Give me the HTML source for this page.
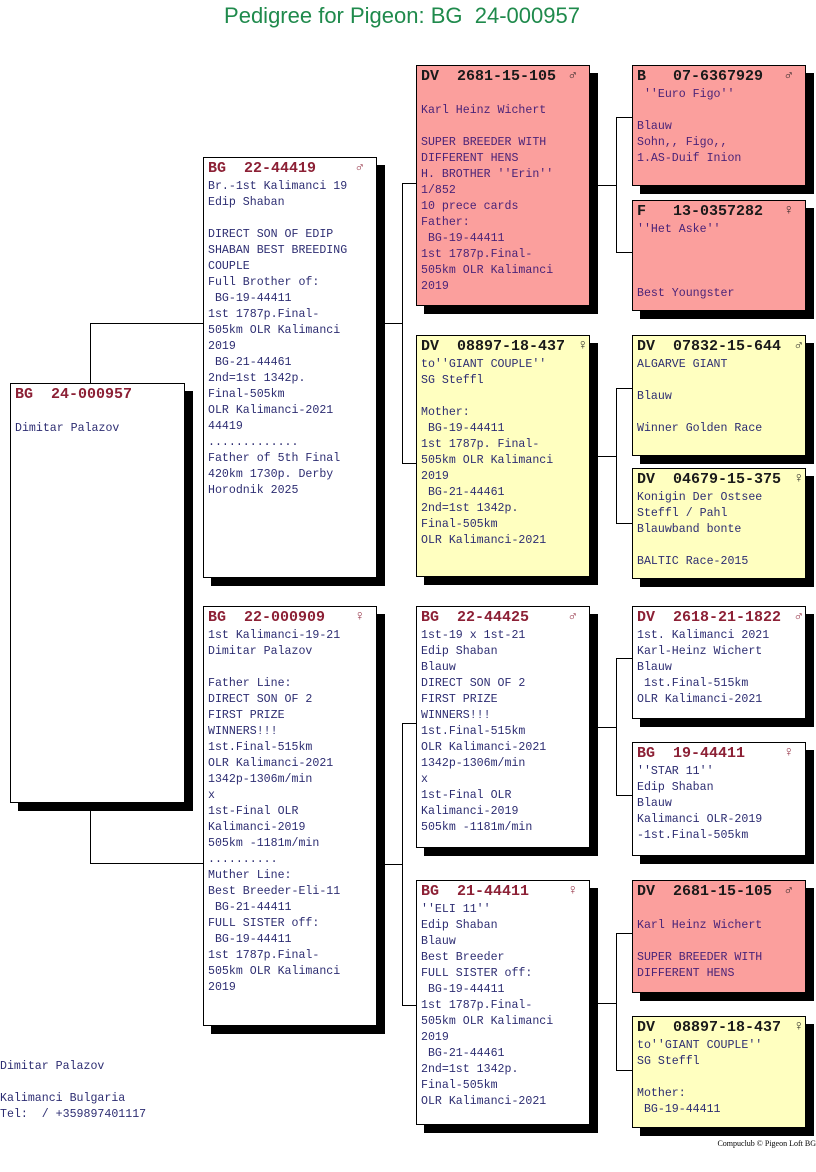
<!DOCTYPE html>
<html><head><meta charset="utf-8"><style>
body{margin:0;width:816px;height:1172px;background:#fff;position:relative;overflow:hidden;font-family:"Liberation Mono",monospace;}
.t{position:absolute;left:0;top:3px;width:804px;text-align:center;font-family:"Liberation Sans",sans-serif;font-size:22px;color:#1f8a4c;}
.b{position:absolute;border:1px solid #000;box-shadow:8px 8px 0 #000;background:#fff;box-sizing:border-box;padding:0 0 0 4px;}
.pk{background:#fb9f9d;}
.yl{background:#ffffc0;}
.h{font-weight:bold;font-size:15px;line-height:22px;height:21px;color:#8c2035;white-space:pre;position:relative;}
.pk .h,.yl .h{color:#1a1a1a;}
.s{position:absolute;right:12px;top:-1px;font-weight:normal;font-size:14px;}
.x{font-size:11.6px;line-height:16px;color:#2d2d72;white-space:pre;}
.pk .x{color:#4a2378;}
.l{position:absolute;background:#000;}
.f{position:absolute;left:0;font-size:11.6px;line-height:16px;color:#2d2d72;white-space:pre;}
</style></head><body>
<div class="t">Pedigree for Pigeon: BG&nbsp; 24-000957</div>

<div class="l" style="left:90px;top:323px;width:1px;height:60px"></div>
<div class="l" style="left:90px;top:323px;width:113px;height:1px"></div>
<div class="l" style="left:90px;top:802px;width:1px;height:62px"></div>
<div class="l" style="left:90px;top:863px;width:113px;height:1px"></div>

<div class="l" style="left:384px;top:323px;width:18px;height:1px"></div>
<div class="l" style="left:402px;top:183px;width:1px;height:281px"></div>
<div class="l" style="left:402px;top:183px;width:14px;height:1px"></div>
<div class="l" style="left:402px;top:463px;width:14px;height:1px"></div>

<div class="l" style="left:384px;top:864px;width:18px;height:1px"></div>
<div class="l" style="left:402px;top:723px;width:1px;height:283px"></div>
<div class="l" style="left:402px;top:723px;width:14px;height:1px"></div>
<div class="l" style="left:402px;top:1005px;width:14px;height:1px"></div>

<div class="l" style="left:597px;top:185px;width:19px;height:1px"></div>
<div class="l" style="left:616px;top:117px;width:1px;height:136px"></div>
<div class="l" style="left:616px;top:117px;width:16px;height:1px"></div>
<div class="l" style="left:616px;top:252px;width:16px;height:1px"></div>

<div class="l" style="left:597px;top:456px;width:19px;height:1px"></div>
<div class="l" style="left:616px;top:388px;width:1px;height:136px"></div>
<div class="l" style="left:616px;top:388px;width:16px;height:1px"></div>
<div class="l" style="left:616px;top:523px;width:16px;height:1px"></div>

<div class="l" style="left:597px;top:727px;width:19px;height:1px"></div>
<div class="l" style="left:616px;top:658px;width:1px;height:138px"></div>
<div class="l" style="left:616px;top:658px;width:16px;height:1px"></div>
<div class="l" style="left:616px;top:795px;width:16px;height:1px"></div>

<div class="l" style="left:597px;top:1003px;width:19px;height:1px"></div>
<div class="l" style="left:616px;top:933px;width:1px;height:138px"></div>
<div class="l" style="left:616px;top:933px;width:16px;height:1px"></div>
<div class="l" style="left:616px;top:1070px;width:16px;height:1px"></div>

<div class="b" style="left:10px;top:383px;width:175px;height:420px">
<div class="h">BG  24-000957</div><div class="x">
Dimitar Palazov</div></div>

<div class="b" style="left:203px;top:157px;width:174px;height:421px">
<div class="h">BG  22-44419<span class="s">♂</span></div><div class="x">Br.-1st Kalimanci 19
Edip Shaban

DIRECT SON OF EDIP
SHABAN BEST BREEDING
COUPLE
Full Brother of:
 BG-19-44411
1st 1787p.Final-
505km OLR Kalimanci
2019
 BG-21-44461
2nd=1st 1342p.
Final-505km
OLR Kalimanci-2021
44419
.............
Father of 5th Final
420km 1730p. Derby
Horodnik 2025</div></div>

<div class="b" style="left:203px;top:606px;width:174px;height:420px">
<div class="h">BG  22-000909<span class="s">♀</span></div><div class="x">1st Kalimanci-19-21
Dimitar Palazov

Father Line:
DIRECT SON OF 2
FIRST PRIZE
WINNERS!!!
1st.Final-515km
OLR Kalimanci-2021
1342p-1306m/min
x
1st-Final OLR
Kalimanci-2019
505km -1181m/min
..........
Muther Line:
Best Breeder-Eli-11
 BG-21-44411
FULL SISTER off:
 BG-19-44411
1st 1787p.Final-
505km OLR Kalimanci
2019</div></div>

<div class="b pk" style="left:416px;top:65px;width:174px;height:241px">
<div class="h">DV  2681-15-105<span class="s">♂</span></div><div class="x">
Karl Heinz Wichert

SUPER BREEDER WITH
DIFFERENT HENS
H. BROTHER ''Erin''
1/852
10 prece cards
Father:
 BG-19-44411
1st 1787p.Final-
505km OLR Kalimanci
2019</div></div>

<div class="b yl" style="left:416px;top:335px;width:174px;height:242px">
<div class="h">DV  08897-18-437<span class="s" style="right:2px">♀</span></div><div class="x">to''GIANT COUPLE''
SG Steffl

Mother:
 BG-19-44411
1st 1787p. Final-
505km OLR Kalimanci
2019
 BG-21-44461
2nd=1st 1342p.
Final-505km
OLR Kalimanci-2021</div></div>

<div class="b" style="left:416px;top:606px;width:174px;height:242px">
<div class="h">BG  22-44425<span class="s">♂</span></div><div class="x">1st-19 x 1st-21
Edip Shaban
Blauw
DIRECT SON OF 2
FIRST PRIZE
WINNERS!!!
1st.Final-515km
OLR Kalimanci-2021
1342p-1306m/min
x
1st-Final OLR
Kalimanci-2019
505km -1181m/min</div></div>

<div class="b" style="left:416px;top:880px;width:174px;height:245px">
<div class="h">BG  21-44411<span class="s">♀</span></div><div class="x">''ELI 11''
Edip Shaban
Blauw
Best Breeder
FULL SISTER off:
 BG-19-44411
1st 1787p.Final-
505km OLR Kalimanci
2019
 BG-21-44461
2nd=1st 1342p.
Final-505km
OLR Kalimanci-2021</div></div>

<div class="b pk" style="left:632px;top:65px;width:174px;height:121px">
<div class="h">B   07-6367929<span class="s">♂</span></div><div class="x"> ''Euro Figo''

Blauw
Sohn,, Figo,,
1.AS-Duif Inion</div></div>

<div class="b pk" style="left:632px;top:200px;width:174px;height:111px">
<div class="h">F   13-0357282<span class="s">♀</span></div><div class="x">''Het Aske''



Best Youngster</div></div>

<div class="b yl" style="left:632px;top:335px;width:174px;height:121px">
<div class="h">DV  07832-15-644<span class="s" style="right:2px">♂</span></div><div class="x">ALGARVE GIANT

Blauw

Winner Golden Race</div></div>

<div class="b yl" style="left:632px;top:468px;width:174px;height:111px">
<div class="h">DV  04679-15-375<span class="s" style="right:2px">♀</span></div><div class="x">Konigin Der Ostsee
Steffl / Pahl
Blauwband bonte

BALTIC Race-2015</div></div>

<div class="b" style="left:632px;top:606px;width:174px;height:113px">
<div class="h">DV  2618-21-1822<span class="s" style="right:2px">♂</span></div><div class="x">1st. Kalimanci 2021
Karl-Heinz Wichert
Blauw
 1st.Final-515km
OLR Kalimanci-2021</div></div>

<div class="b" style="left:632px;top:742px;width:174px;height:114px">
<div class="h">BG  19-44411<span class="s">♀</span></div><div class="x">''STAR 11''
Edip Shaban
Blauw
Kalimanci OLR-2019
-1st.Final-505km</div></div>

<div class="b pk" style="left:632px;top:880px;width:174px;height:113px">
<div class="h">DV  2681-15-105<span class="s">♂</span></div><div class="x">
Karl Heinz Wichert

SUPER BREEDER WITH
DIFFERENT HENS</div></div>

<div class="b yl" style="left:632px;top:1016px;width:174px;height:112px">
<div class="h">DV  08897-18-437<span class="s" style="right:2px">♀</span></div><div class="x">to''GIANT COUPLE''
SG Steffl

Mother:
 BG-19-44411</div></div>

<div class="f" style="top:1059px">Dimitar Palazov

Kalimanci Bulgaria
Tel:  / +359897401117</div>
<div style="position:absolute;right:0;top:1139px;font-family:'Liberation Serif',serif;font-size:8px;color:#000;">Compuclub © Pigeon Loft BG</div>
</body></html>
